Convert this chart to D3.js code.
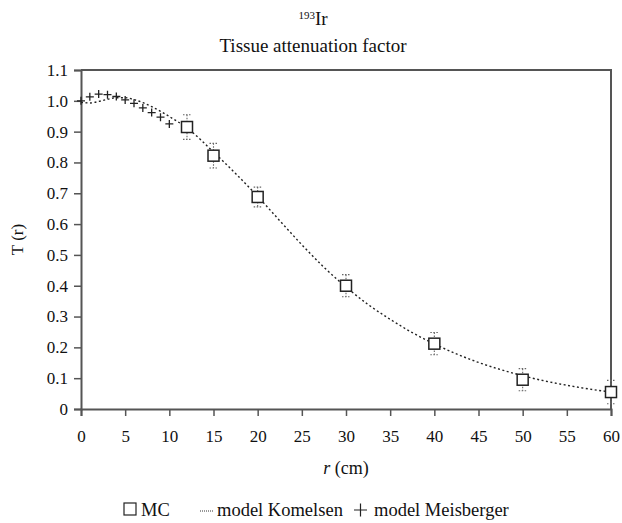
<!DOCTYPE html>
<html>
<head>
<meta charset="utf-8">
<script src="https://cdn.jsdelivr.net/npm/d3@7"></script>
<style>
  body { margin: 0; background: #fff; }
  svg text { font-family: "Liberation Serif", "DejaVu Serif", serif; fill: #111; }
</style>
</head>
<body>
<svg id="chart" width="622" height="523"></svg>
<script>
// ---- data ----
const mcR   = [12, 15, 20, 30, 40, 50, 60];
const mcT   = [0.915, 0.822, 0.688, 0.400, 0.212, 0.095, 0.055];
const mcErr = [0.040, 0.040, 0.032, 0.036, 0.036, 0.036, 0.038];

const komR = [0, 1, 2, 3, 4, 5, 6, 7, 8, 9, 10, 12, 15, 17.5, 20, 22.5, 25, 27.5, 30, 32.5, 35, 37.5, 40, 42.5, 45, 47.5, 50, 52.5, 55, 57.5, 60];
const komT = [0.995, 0.993, 0.998, 1.005, 1.010, 1.010, 1.004, 0.994, 0.981, 0.966, 0.949, 0.912, 0.834, 0.764, 0.690, 0.611, 0.533, 0.460, 0.396, 0.339, 0.291, 0.248, 0.211, 0.179, 0.151, 0.128, 0.108, 0.091, 0.077, 0.065, 0.055];

const meiR = [0, 1, 2, 3, 4, 5, 6, 7, 8, 9, 10];
const meiT = [1.000, 1.013, 1.022, 1.020, 1.014, 1.003, 0.992, 0.977, 0.962, 0.947, 0.925];

const xTicks = [0, 5, 10, 15, 20, 25, 30, 35, 40, 45, 50, 55, 60];
const yTicks = [0, 0.1, 0.2, 0.3, 0.4, 0.5, 0.6, 0.7, 0.8, 0.9, 1.0, 1.1];
const yTickLabels = ["0", "0.1", "0.2", "0.3", "0.4", "0.5", "0.6", "0.7", "0.8", "0.9", "1.0", "1.1"];

// ---- layout ----
const svg = d3.select("#chart");
const m = { left: 81, right: 611, top: 70, bottom: 409 };
const x = d3.scaleLinear().domain([0, 60]).range([m.left, m.right]);
const y = d3.scaleLinear().domain([0, 1.1]).range([m.bottom, m.top]);
const axisColor = "#555";
const serif = "'Liberation Serif', 'DejaVu Serif', serif";
const tickFs = 17, titleFs = 19, legFs = 18.5;

// titles
const t1 = svg.append("text").attr("x", 313).attr("y", 25).attr("text-anchor", "middle").style("font-size", titleFs + "px");
t1.append("tspan").text("193").style("font-size", "11px").attr("dy", "-6");
t1.append("tspan").text("Ir").attr("dy", "6");
svg.append("text").attr("x", 313).attr("y", 52).attr("text-anchor", "middle").style("font-size", titleFs + "px").text("Tissue attenuation factor");

// box top/right
svg.append("path")
  .attr("d", `M${m.left},${m.top}H${m.right}V${m.bottom}`)
  .attr("fill", "none").attr("stroke", axisColor).attr("stroke-width", 2);

// axes
const xAxis = svg.append("g").attr("transform", `translate(0,${m.bottom})`)
  .call(d3.axisBottom(x).tickValues(xTicks).tickSize(7).tickPadding(14).tickFormat(d3.format("d")));
const yAxis = svg.append("g").attr("transform", `translate(${m.left},0)`)
  .call(d3.axisLeft(y).tickValues(yTicks).tickSize(7).tickPadding(6).tickFormat((d, i) => yTickLabels[i]));
[xAxis, yAxis].forEach(g => {
  g.attr("font-family", serif).attr("font-size", tickFs);
  g.select(".domain").attr("stroke", axisColor).attr("stroke-width", 2);
  g.selectAll(".tick line").attr("stroke", axisColor).attr("stroke-width", 1.5);
  g.selectAll(".tick text").style("font-size", tickFs + "px").style("font-family", serif).attr("fill", "#111");
});

// axis titles
const xl = svg.append("text").attr("x", (m.left + m.right) / 2).attr("y", 474).attr("text-anchor", "middle").style("font-size", "18px");
xl.append("tspan").text("r").style("font-style", "italic");
xl.append("tspan").text(" (cm)");
svg.append("text").attr("transform", `translate(23,${(m.top + m.bottom) / 2}) rotate(-90)`)
  .attr("text-anchor", "middle").style("font-size", "17px").text("T (r)");

// Komelsen dotted curve
const line = d3.line().x((d, i) => x(komR[i])).y(d => y(d)).curve(d3.curveMonotoneX);
svg.append("path").datum(komT).attr("d", line)
  .attr("fill", "none").attr("stroke", "#222").attr("stroke-width", 1.4).attr("stroke-dasharray", "2,2.5");

// MC error bars
const eb = svg.append("g").selectAll("g").data(mcT).join("g");
const ebStyle = s => s.attr("stroke", "#666").attr("stroke-width", 1.1).attr("stroke-dasharray", "1.5,1.5");
eb.append("line").attr("x1", (d, i) => x(mcR[i])).attr("x2", (d, i) => x(mcR[i]))
  .attr("y1", (d, i) => y(d + mcErr[i])).attr("y2", (d, i) => y(d - mcErr[i])).call(ebStyle);
eb.append("line").attr("x1", (d, i) => x(mcR[i]) - 4).attr("x2", (d, i) => x(mcR[i]) + 4)
  .attr("y1", (d, i) => y(d + mcErr[i])).attr("y2", (d, i) => y(d + mcErr[i])).call(ebStyle);
eb.append("line").attr("x1", (d, i) => x(mcR[i]) - 4).attr("x2", (d, i) => x(mcR[i]) + 4)
  .attr("y1", (d, i) => y(d - mcErr[i])).attr("y2", (d, i) => y(d - mcErr[i])).call(ebStyle);

// MC squares
svg.append("g").selectAll("rect").data(mcT).join("rect")
  .attr("x", (d, i) => x(mcR[i]) - 5.5).attr("y", d => y(d) - 5.5)
  .attr("width", 11).attr("height", 11)
  .attr("fill", "#fff").attr("stroke", "#222").attr("stroke-width", 1.5);

// Meisberger pluses
svg.append("g").selectAll("path").data(meiT).join("path")
  .attr("d", (d, i) => { const cx = x(meiR[i]), cy = y(d); return `M${cx - 4},${cy}H${cx + 4}M${cx},${cy - 4}V${cy + 4}`; })
  .attr("stroke", "#222").attr("stroke-width", 1.3).attr("fill", "none");

// legend
const ly = 516;
const lg = svg.append("g");
lg.append("rect").attr("x", 124).attr("y", ly - 13).attr("width", 12).attr("height", 12)
  .attr("fill", "#fff").attr("stroke", "#222").attr("stroke-width", 1.2);
lg.append("text").attr("x", 141).attr("y", ly).style("font-size", legFs + "px").text("MC");
lg.append("line").attr("x1", 200).attr("x2", 214).attr("y1", ly - 5).attr("y2", ly - 5)
  .attr("stroke", "#333").attr("stroke-width", 1).attr("stroke-dasharray", "1,1");
lg.append("text").attr("x", 217).attr("y", ly).style("font-size", legFs + "px").text("model Komelsen");
lg.append("path").attr("d", `M${354},${ly - 6}H${367}M${360.5},${ly - 12.5}V${ly + 0.5}`)
  .attr("stroke", "#222").attr("stroke-width", 1.2);
lg.append("text").attr("x", 374).attr("y", ly).style("font-size", legFs + "px").text("model Meisberger");
</script>
</body>
</html>
